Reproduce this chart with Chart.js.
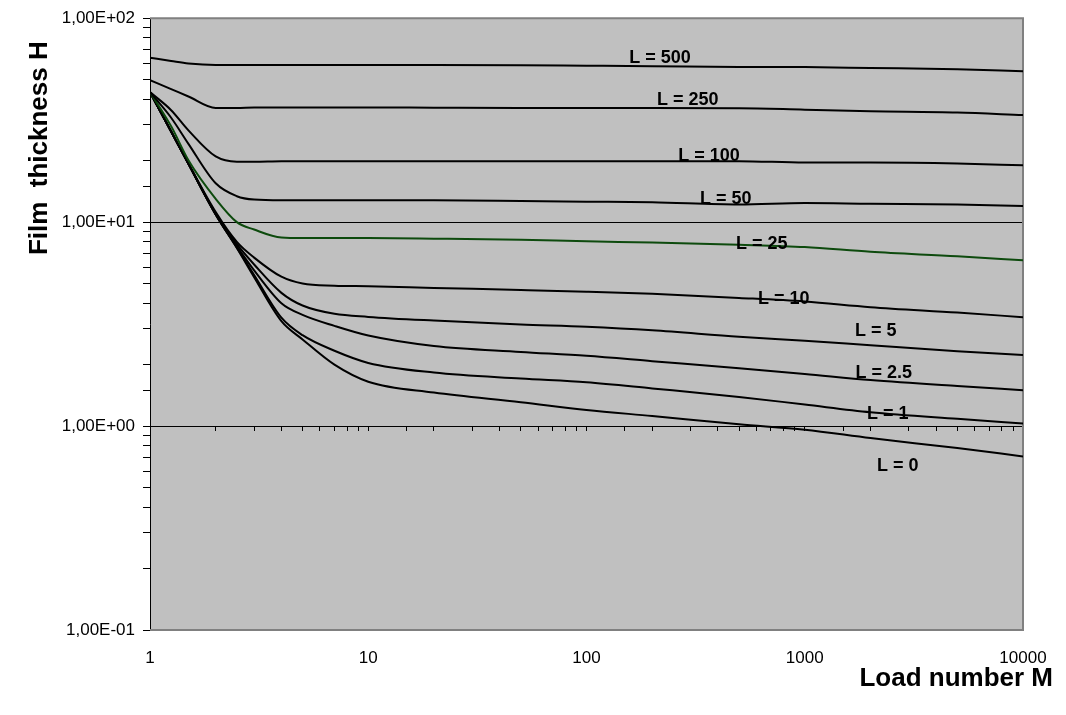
<!DOCTYPE html>
<html>
<head>
<meta charset="utf-8">
<script src="https://cdn.jsdelivr.net/npm/chart.js@4.4.0/dist/chart.umd.min.js"></script>
<style>
html, body { margin: 0; padding: 0; background: #ffffff; }
#wrap { width: 1066px; height: 715px; }
</style>
</head>
<body>
<div id="wrap"><canvas id="c" width="1066" height="715"></canvas></div>
<script>
// ---------- data ----------
const loadM = [1, 1.25, 1.5, 2, 2.5, 3, 4, 5, 7, 10, 20, 50, 100, 200, 500, 1000, 2000, 5000, 10000];

const H_L500 = [64, 61.7, 60.0, 59.0, 59.0, 59.0, 59.0, 59.0, 59.0, 59.0, 59.0, 58.8, 58.5, 58.2, 57.7, 57.6, 57.0, 56.2, 55.0];
const H_L250 = [49.7, 44.9, 41.3, 36.3, 36.3, 36.5, 36.5, 36.5, 36.5, 36.5, 36.4, 36.3, 36.3, 36.3, 36.2, 35.6, 35.0, 34.5, 33.5];
const H_L100 = [43.4, 35.4, 28.2, 21.0, 19.8, 19.8, 19.9, 19.9, 19.9, 19.9, 19.9, 19.9, 19.9, 19.9, 19.9, 19.6, 19.6, 19.4, 19.0];
const H_L50  = [43.4, 32.5, 24.2, 15.5, 13.4, 12.9, 12.8, 12.8, 12.8, 12.8, 12.8, 12.7, 12.6, 12.5, 12.2, 12.4, 12.3, 12.2, 12.0];
const H_L25  = [43.4, 29.5, 20.1, 13.0, 10.0, 9.2, 8.4, 8.35, 8.35, 8.35, 8.3, 8.2, 8.05, 7.95, 7.75, 7.55, 7.15, 6.8, 6.5];
const H_L10  = [43.4, 27.8, 19.4, 11.2, 8.0, 6.7, 5.4, 5.0, 4.88, 4.85, 4.76, 4.65, 4.56, 4.45, 4.25, 4.08, 3.83, 3.6, 3.42];
const H_L5   = [43.4, 27.8, 19.3, 11.0, 7.8, 6.2, 4.5, 3.9, 3.55, 3.43, 3.29, 3.15, 3.07, 2.95, 2.74, 2.62, 2.49, 2.33, 2.23];
const H_L2_5 = [43.4, 27.8, 19.3, 10.9, 7.6, 5.8, 4.0, 3.51, 3.10, 2.78, 2.47, 2.31, 2.21, 2.08, 1.92, 1.80, 1.68, 1.57, 1.50];
const H_L1   = [43.4, 27.8, 19.3, 10.9, 7.5, 5.5, 3.4, 2.79, 2.34, 2.04, 1.83, 1.71, 1.64, 1.53, 1.39, 1.275, 1.17, 1.085, 1.03];
const H_L0   = [43.4, 27.8, 19.3, 10.9, 7.46, 5.37, 3.27, 2.66, 2.00, 1.65, 1.46, 1.31, 1.20, 1.12, 1.02, 0.96, 0.873, 0.78, 0.71];

const seriesNames = ['L = 500', 'L = 250', 'L = 100', 'L = 50', 'L = 25', 'L = 10', 'L = 5', 'L = 2.5', 'L = 1', 'L = 0'];
const seriesValues = [H_L500, H_L250, H_L100, H_L50, H_L25, H_L10, H_L5, H_L2_5, H_L1, H_L0];

// curve labels, anchored in data coordinates (M, H)
const labelText = ['L = 500', 'L = 250', 'L = 100', 'L = 50', 'L = 25', 'L = 10', 'L = 5', 'L = 2.5', 'L = 1', 'L = 0'];
const labelM    = [217, 291, 364, 435, 636, 802, 2117, 2304, 2403, 2670];
const labelH    = [63.7, 39.6, 21.1, 12.97, 7.80, 4.19, 2.92, 1.82, 1.145, 0.637];

const xTickValues = [1, 10, 100, 1000, 10000];
const yTickValues = [0.1, 1, 10, 100];
const xTitle = 'Load number M';
const yTitle = 'Film  thickness H';

// ---------- styling ----------
const FONT = "'Liberation Sans', Arial, Helvetica, sans-serif";
const seriesColor = name => (name === 'L = 25' ? '#0d4a0d' : '#000000');

function isPow10(v) {
  const e = Math.log10(v);
  return Math.abs(e - Math.round(e)) < 1e-9;
}
function fmtSci(v) {
  const e = Math.round(Math.log10(v));
  const m = v / Math.pow(10, e);
  return m.toFixed(2).replace('.', ',') + 'E' + (e < 0 ? '-' : '+') + String(Math.abs(e)).padStart(2, '0');
}

const datasets = seriesNames.map((name, i) => ({
  label: name,
  data: loadM.map((m, j) => ({ x: m, y: seriesValues[i][j] })),
  borderColor: seriesColor(name),
  backgroundColor: seriesColor(name),
  borderWidth: 2,
  pointRadius: 0,
  fill: false,
  cubicInterpolationMode: 'monotone',
  xAxisID: 'x',
  yAxisID: 'y'
}));

const decorPlugin = {
  id: 'decor',
  beforeDraw(chart) {
    const { ctx, chartArea: a } = chart;
    ctx.save();
    ctx.fillStyle = '#c0c0c0';
    ctx.fillRect(a.left, a.top, a.right - a.left, a.bottom - a.top);
    ctx.restore();
  },
  beforeDatasetsDraw(chart) {
    const { ctx, chartArea: a } = chart;
    ctx.save();
    ctx.strokeStyle = '#808080';
    ctx.lineWidth = 2;
    ctx.beginPath();
    ctx.moveTo(a.left, a.top);
    ctx.lineTo(a.right, a.top);
    ctx.lineTo(a.right, a.bottom);
    ctx.lineTo(a.left, a.bottom);
    ctx.stroke();
    ctx.restore();
  },
  afterDatasetsDraw(chart) {
    const { ctx } = chart;
    const xs = chart.scales.x, ys = chart.scales.y;
    ctx.save();
    ctx.font = 'bold 18px ' + FONT;
    ctx.fillStyle = '#000000';
    ctx.textAlign = 'center';
    ctx.textBaseline = 'middle';
    labelText.forEach((t, i) => {
      ctx.fillText(t, xs.getPixelForValue(labelM[i]), ys.getPixelForValue(labelH[i]));
    });
    ctx.restore();
  },
  afterDraw(chart) {
    const { ctx, chartArea: a } = chart;
    ctx.save();
    ctx.fillStyle = '#000000';
    ctx.font = 'bold 26px ' + FONT;
    ctx.textBaseline = 'middle';
    ctx.textAlign = 'right';
    ctx.fillText(xTitle, a.right + 30, a.bottom + 49);
    ctx.translate(40, a.top + 130);
    ctx.rotate(-Math.PI / 2);
    ctx.textAlign = 'center';
    ctx.fillText(yTitle, 0, 0);
    ctx.restore();
  }
};

new Chart(document.getElementById('c'), {
  type: 'line',
  data: { datasets },
  options: {
    responsive: false,
    devicePixelRatio: 1,
    animation: false,
    events: [],
    layout: { padding: { top: 18, right: 43, left: 0, bottom: 0 } },
    plugins: { legend: { display: false }, tooltip: { enabled: false }, title: { display: false } },
    scales: {
      x: {
        type: 'logarithmic',
        position: 'bottom',
        min: 1,
        max: 10000,
        afterBuildTicks: s => { s.ticks = xTickValues.map(v => ({ value: v })); },
        afterFit: s => { s.height = 85; },
        grid: { display: false },
        border: { display: false },
        ticks: {
          autoSkip: false,
          maxRotation: 0,
          padding: 10,
          color: '#000000',
          font: { family: FONT, size: 17 },
          callback: v => String(v)
        }
      },
      x2: {
        type: 'logarithmic',
        position: { y: 1 },
        min: 1,
        max: 10000,
        grid: { drawOnChartArea: false, drawTicks: true, tickLength: 5, tickColor: '#000000', color: '#000000' },
        border: { display: false },
        ticks: { display: false, autoSkip: false }
      },
      y: {
        type: 'logarithmic',
        position: 'left',
        min: 0.1,
        max: 100,
        afterFit: s => { s.width = 150; },
        grid: {
          color: c => (c.tick && (c.tick.value === 1 || c.tick.value === 10) ? '#000000' : 'rgba(0,0,0,0)'),
          tickColor: '#000000',
          tickLength: 7,
          lineWidth: 1
        },
        border: { display: true, color: '#000000', width: 1 },
        ticks: {
          autoSkip: false,
          padding: 8,
          color: '#000000',
          font: { family: FONT, size: 17 },
          callback: v => (isPow10(v) ? fmtSci(v) : '')
        }
      }
    }
  },
  plugins: [decorPlugin]
});
</script>
</body>
</html>
